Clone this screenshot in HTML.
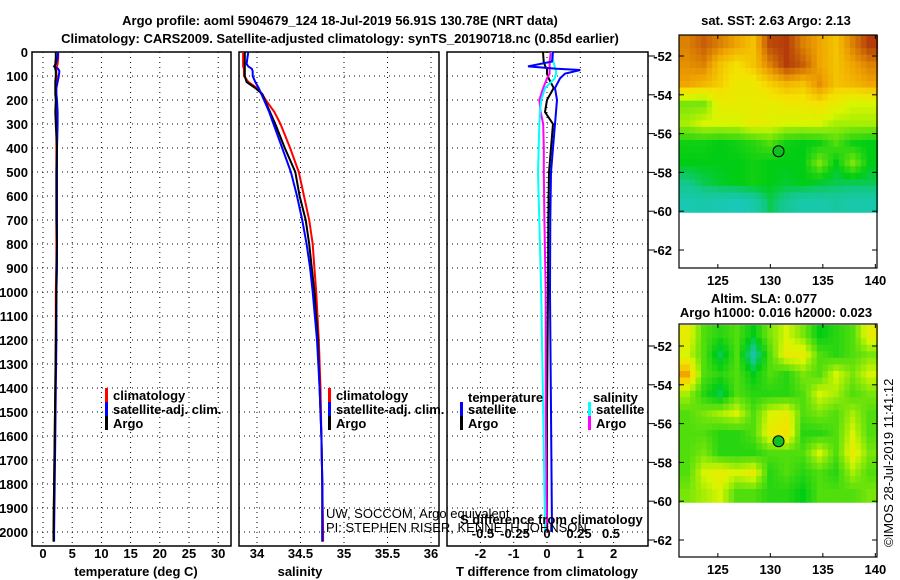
<!DOCTYPE html>
<html><head><meta charset="utf-8"><style>
html,body{margin:0;padding:0;background:#fff;}
svg{display:block;font-family:"Liberation Sans",sans-serif;}
.b{font-weight:bold;font-size:13px;}
</style></head><body>
<svg id="c" width="900" height="580" viewBox="0 0 900 580">
<text class="b" x="340" y="25" text-anchor="middle" font-size="14">Argo profile: aoml 5904679_124 18-Jul-2019 56.91S 130.78E (NRT data)</text>
<text class="b" x="340" y="43" text-anchor="middle" font-size="14">Climatology: CARS2009. Satellite-adjusted climatology: synTS_20190718.nc (0.85d earlier)</text>
</svg>
<script>
// ---- data ----
const depthTS = [0,25,50,60,70,80,100,125,150,175,200,250,300,400,500,600,700,800,900,1000,1200,1400,1600,1800,2000,2040];
const argoT = [2.2,2.2,2.1,2.0,2.1,2.2,2.2,2.1,2.1,2.1,2.2,2.1,2.2,2.4,2.3,2.3,2.3,2.4,2.3,2.3,2.2,2.1,2.0,1.9,1.8,1.8];
const climT = [2.6,2.6,2.5,2.4,2.3,2.3,2.3,2.3,2.2,2.2,2.3,2.3,2.3,2.3,2.3,2.3,2.3,2.3,2.3,2.2,2.2,2.1,2.0,1.9,1.8,1.8];
const satT = [2.6,2.5,2.2,1.9,2.6,2.8,2.7,2.5,2.3,2.3,2.4,2.5,2.5,2.4,2.4,2.4,2.4,2.4,2.4,2.3,2.3,2.2,2.1,2.0,1.9,1.9];
const argoS = [33.86,33.86,33.86,33.86,33.86,33.86,33.86,33.88,33.98,34.06,34.09,34.15,34.21,34.32,34.44,34.49,34.56,34.6,34.63,34.66,34.7,34.72,34.74,34.75,34.75,34.75];
const climS = [33.84,33.84,33.84,33.84,33.85,33.85,33.85,33.9,34.0,34.06,34.1,34.2,34.27,34.38,34.48,34.54,34.6,34.64,34.66,34.68,34.71,34.73,34.74,34.75,34.76,34.76];
const satS = [33.9,33.89,33.88,33.9,33.94,33.95,33.95,33.98,34.02,34.05,34.08,34.14,34.19,34.29,34.39,34.46,34.52,34.57,34.61,34.64,34.69,34.72,34.74,34.75,34.75,34.75];
const depthD = [0,40,60,70,75,90,110,150,200,250,300,400,500,700,1000,1500,2000];
const dTsat = [0.18,0.15,-0.57,0.3,1.0,0.54,0.39,0.24,0.3,0.27,0.24,0.18,0.12,0.1,0.09,0.12,0.15];
const dTargo = [-0.12,-0.1,-0.05,0.0,0.0,0.0,0.05,0.2,0.0,-0.06,0.18,0.12,0.06,0.04,0.03,0.0,0.0];
const dSsat = [0.04,0.05,0.06,0.06,0.07,0.07,0.06,-0.015,-0.045,-0.055,-0.06,-0.065,-0.07,-0.06,-0.045,-0.03,-0.015];
const dSargo = [0.03,0.02,0.02,0.02,0.02,0.02,0.0,-0.03,-0.06,-0.05,-0.03,-0.025,-0.025,-0.02,-0.01,-0.01,0.0];
const depthTicks = [0,100,200,300,400,500,600,700,800,900,1000,1100,1200,1300,1400,1500,1600,1700,1800,1900,2000];
const tTicks = [0,5,10,15,20,25,30];
const sTicks = [34,34.5,35,35.5,36];
const sTickLabels = ["34","34.5","35","35.5","36"];
const dTTicks = [-2,-1,0,1,2];
const dSTicks = [-0.5,-0.25,0,0.25,0.5];
const dSTickLabels = ["-0.5","-0.25","0","0.25","0.5"];
const latTicks = [-52,-54,-56,-58,-60,-62];
const lonTicks = [125,130,135,140];
const argoLon = 130.78, argoLat = -56.91;
const sstGrid = [
[0.8,0.85,0.8,0.75,0.7,0.88,0.9,0.8,0.75,0.7,0.8,0.9],
[0.78,0.8,0.7,0.65,0.7,0.8,0.9,0.85,0.75,0.7,0.75,0.8],
[0.75,0.72,0.68,0.62,0.62,0.68,0.72,0.7,0.78,0.7,0.72,0.75],
[0.45,0.45,0.6,0.6,0.6,0.6,0.62,0.62,0.65,0.6,0.55,0.55],
[0.5,0.55,0.55,0.55,0.6,0.58,0.55,0.55,0.55,0.5,0.5,0.5],
[0.32,0.32,0.3,0.32,0.35,0.4,0.32,0.3,0.32,0.4,0.32,0.3],
[0.3,0.3,0.3,0.3,0.32,0.3,0.3,0.3,0.45,0.3,0.45,0.3],
[0.2,0.25,0.28,0.3,0.32,0.3,0.28,0.3,0.28,0.25,0.25,0.25],
[0.1,0.12,0.1,0.08,0.12,0.25,0.18,0.12,0.12,0.15,0.12,0.12]];
const slaGrid = [
[0.6,0.4,0.35,0.4,0.3,0.45,0.55,0.45,0.3,0.35,0.4,0.6],
[0.55,0.4,0.25,0.4,0.15,0.4,0.6,0.6,0.4,0.35,0.4,0.45],
[0.75,0.4,0.35,0.4,0.3,0.4,0.35,0.45,0.4,0.55,0.45,0.55],
[0.5,0.35,0.25,0.4,0.35,0.35,0.35,0.4,0.55,0.5,0.4,0.45],
[0.4,0.45,0.5,0.55,0.4,0.55,0.6,0.4,0.45,0.4,0.5,0.4],
[0.4,0.4,0.35,0.35,0.4,0.6,0.65,0.35,0.35,0.4,0.55,0.4],
[0.4,0.45,0.35,0.35,0.35,0.4,0.4,0.4,0.55,0.4,0.6,0.45],
[0.4,0.55,0.6,0.55,0.6,0.35,0.4,0.35,0.4,0.35,0.5,0.4],
[0.45,0.5,0.55,0.4,0.4,0.35,0.35,0.3,0.4,0.4,0.4,0.45]];

// ---- scales ----
const yD = d => 52 + d*0.24;
const xT = t => 43 + t*5.84;
const xS = s => 257 + (s-34)*87;
const xdT = t => 547 + t*33.3;
const xdS = s => 547 + s*128;
const lonX = l => 679 + (l-121.3)*10.5;
const latY1 = la => 56 + (-52-la)*19.4;
const latY2 = la => 346 + (-52-la)*19.4;

const svg = document.getElementById('c');
const NS = 'http://www.w3.org/2000/svg';
function mk(tag, attrs, parent){const e=document.createElementNS(NS,tag);for(const k in attrs)e.setAttribute(k,attrs[k]);(parent||svg).appendChild(e);return e;}
function txt(x,y,s,anchor,cls){const e=mk('text',{x:x,y:y,'text-anchor':anchor||'start',class:cls||'b'});e.textContent=s;return e;}

const panels = [{x0:32,x1:231,sc:xT,ticks:tTicks,labs:tTicks.map(String),title:'temperature (deg C)',tx:136,name:'temperature-panel'},
 {x0:239,x1:439,sc:xS,ticks:sTicks,labs:sTickLabels,title:'salinity',tx:300,name:'salinity-panel'},
 {x0:447,x1:648,sc:xdT,ticks:dTTicks,labs:dTTicks.map(String),title:'T difference from climatology',tx:547,name:'difference-panel'}];
panels.forEach(p=>{
  const g=mk('g',{});
  
  
  depthTicks.forEach(d=>{const l=mk('line',{x1:p.x0,x2:p.x1,y1:yD(d),y2:yD(d),stroke:'#000','stroke-dasharray':'1,4'},g);
    });
  p.ticks.forEach((t,i)=>{const x=p.sc(t);
    const l=mk('line',{x1:x,x2:x,y1:52,y2:546,stroke:'#000','stroke-dasharray':'1,4'},g);
    
    const tl=txt(x,558,p.labs[i],'middle');
    });
  const r=mk('rect',{x:p.x0,y:52,width:p.x1-p.x0,height:494,fill:'none',stroke:'#000','stroke-width':1.5},g);
  
  const tt=txt(p.tx,576,p.title,'middle');
  
});
depthTicks.forEach(d=>{const t=txt(28,yD(d)+5,String(d),'end');
  });

function line(xs,ds,xsc,color,name,w){
  const pts=xs.map((v,i)=>xsc(v).toFixed(1)+','+yD(ds[i]).toFixed(1)).join(' ');
  const e=mk('polyline',{points:pts,fill:'none',stroke:color,'stroke-width':w||2});
  
  
}
line(climT,depthTS,xT,'#f00','climatology-temperature-line');
line(satT,depthTS,xT,'#00f','satellite-temperature-line');
line(argoT,depthTS,xT,'#000','argo-temperature-line');
line(climS,depthTS,xS,'#f00','climatology-salinity-line');
line(argoS,depthTS,xS,'#000','argo-salinity-line');
line(satS,depthTS,xS,'#00f','satellite-salinity-line');
line(dTargo,depthD,xdT,'#000','argo-t-diff-line');
line(dSargo,depthD,xdS,'#f0f','argo-s-diff-line');
line(dSsat,depthD,xdS,'#0ff','satellite-s-diff-line');
line(dTsat,depthD,xdT,'#00f','satellite-t-diff-line');

function legend(x,y,label,color,name){
  const m=mk('rect',{x:x,y:y-10,width:3,height:14,fill:color});
  
  
  const t=txt(x+8,y+2,label);
  
  
}
legend(105,398,'climatology','#f00','legend-climatology-t');
legend(105,412,'satellite-adj. clim.','#00f','legend-satellite-t');
legend(105,426,'Argo','#000','legend-argo-t');
legend(328,398,'climatology','#f00','legend-climatology-s');
legend(328,412,'satellite-adj. clim.','#00f','legend-satellite-s');
legend(328,426,'Argo','#000','legend-argo-s');
let lt=txt(468,402,'temperature');
lt=txt(593,402,'salinity');
legend(460,412,'satellite','#00f','legend-dt-satellite');
legend(460,426,'Argo','#000','legend-dt-argo');
legend(588,412,'satellite','#0ff','legend-ds-satellite');
legend(588,426,'Argo','#f0f','legend-ds-argo');
let st=txt(460,524,'S difference from climatology');
dSTicks.forEach((s,i)=>{const t=txt(xdS(s),538,dSTickLabels[i],'middle');
  });
let n1=mk('text',{x:326,y:518,'font-size':'13'});n1.textContent='UW, SOCCOM, Argo equivalent';


let n2=mk('text',{x:326,y:532,'font-size':'13'});n2.textContent='PI: STEPHEN RISER, KENNETH JOHNSON';



// colour map
const stops=[[0,[30,200,215]],[0.2,[20,200,140]],[0.3,[0,205,20]],[0.45,[120,230,10]],[0.55,[215,245,0]],[0.65,[245,225,0]],[0.75,[240,165,0]],[0.9,[180,60,10]],[1,[150,20,0]]];
function cmap(v){v=Math.max(0,Math.min(1,v));for(let i=1;i<stops.length;i++){if(v<=stops[i][0]){const a=stops[i-1],b=stops[i],f=(v-a[0])/(b[0]-a[0]);
  return 'rgb('+a[1].map((c,k)=>Math.round(c+(b[1][k]-c)*f)).join(',')+')';}}return 'rgb(150,20,0)';}
function sample(grid,fr,fc){ // bilinear over cell centres
  const R=grid.length,C=grid[0].length;
  let r=fr*R-0.5,c=fc*C-0.5; r=Math.max(0,Math.min(R-1,r)); c=Math.max(0,Math.min(C-1,c));
  const r0=Math.floor(r),c0=Math.floor(c),r1=Math.min(R-1,r0+1),c1=Math.min(C-1,c0+1),a=r-r0,b=c-c0;
  return grid[r0][c0]*(1-a)*(1-b)+grid[r0][c1]*(1-a)*b+grid[r1][c0]*a*(1-b)+grid[r1][c1]*a*b;
}

function drawMap(grid,latY,top,name){
  const g=mk('g',{});
  
  
  const SUB=3, rows=grid.length*SUB, cols=grid[0].length*SUB;
  const lon0=121.3, lon1=140.2, lat0=-50.92, lat1=-60.05;
  for(let r=0;r<rows;r++)for(let c=0;c<cols;c++){
    const la=lat0+(lat1-lat0)*r/rows, lb=lat0+(lat1-lat0)*(r+1)/rows;
    const xa=lon0+(lon1-lon0)*c/cols, xb=lon0+(lon1-lon0)*(c+1)/cols;
    const v=sample(grid,(r+0.5)/rows,(c+0.5)/cols);
    const cell=mk('rect',{x:lonX(xa),y:latY(la),width:lonX(xb)-lonX(xa)+0.6,height:latY(lb)-latY(la)+0.6,fill:cmap(v)},g);
    
    
  }
  const fr=mk('rect',{x:679,y:top,width:198,height:233,fill:'none',stroke:'#000','stroke-width':1.2},g);
  
  latTicks.forEach(la=>{const y=latY(la);
    mk('line',{x1:679,x2:684,y1:y,y2:y,stroke:'#000'},g);mk('line',{x1:872,x2:877,y1:y,y2:y,stroke:'#000'},g);
    mk('line',{x1:648,x2:655,y1:y,y2:y,stroke:'#000'},g);
    const t=txt(672,y+5,String(la),'end');});
  lonTicks.forEach(l=>{const x=lonX(l);
    mk('line',{x1:x,x2:x,y1:top,y2:top+4,stroke:'#000'},g);mk('line',{x1:x,x2:x,y1:top+229,y2:top+233,stroke:'#000'},g);
    const t=txt(x,top+250,String(l),'middle');});
  const m=mk('circle',{cx:lonX(argoLon),cy:latY(argoLat),r:5.5,fill:'#10c020',stroke:'#000','stroke-width':1},g);
  
}
drawMap(sstGrid,latY1,35,'sst-map');
drawMap(slaGrid,latY2,324,'sla-map');
let m1=txt(776,25,'sat. SST: 2.63 Argo: 2.13','middle');
let m2=txt(764,303,'Altim. SLA: 0.077','middle');
let m3=txt(776,317,'Argo h1000: 0.016 h2000: 0.023','middle');
const cr=mk('text',{x:0,y:0,transform:'translate(893,547) rotate(-90)','font-size':'13'});
cr.textContent='©IMOS 28-Jul-2019 11:41:12';


</script>
</body></html>
